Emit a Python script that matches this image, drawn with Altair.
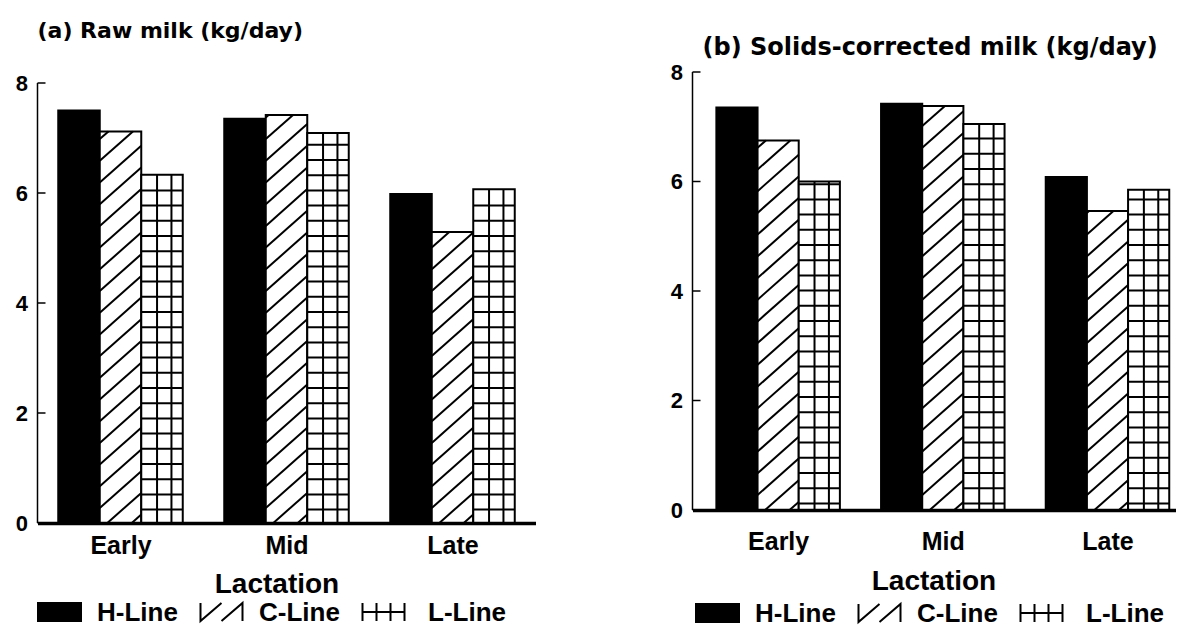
import math
import altair as alt
import pandas as pd

# ---------------- data ----------------
stages = ["Early", "Mid", "Late"]
series = ["H-Line", "C-Line", "L-Line"]

raw_h = [7.50, 7.35, 5.98]
raw_c = [7.12, 7.42, 5.29]
raw_l = [6.33, 7.09, 6.07]

scm_h = [7.35, 7.42, 6.08]
scm_c = [6.75, 7.38, 5.46]
scm_l = [6.00, 7.05, 5.85]

y_ticks = [0, 2, 4, 6, 8]

# ---------------- styling ----------------
FONT = "Liberation Sans"
TFONT = "DejaVu Sans"
BAR = 0.25
OUTER = 0.125

# legend swatches as stroked paths (the solid one is filled by dense strokes)
solid = "M-2.15,-0.9H2.15V0.9H-2.15Z" + "".join(
    "M-2.15,%.2fH2.15" % (-0.9 + 0.15 * i) for i in range(1, 12)
)
legend_paths = [
    solid,
    "M-2.1,-0.9V0.9L0,-0.9M0,0.9L2.1,-0.9V0.9",
    "M-2.1,-0.9V0.9M-0.7,-0.9V0.9M0.7,-0.9V0.9M2.1,-0.9V0.9M-2.1,0H2.1",
]


def bar_table(h, c, l):
    rows = []
    for i, st in enumerate(stages):
        for k, (s, vals) in enumerate(zip(series, [h, c, l])):
            x0 = i + OUTER + k * BAR
            rows.append({"stage": st, "series": s, "x0": x0, "x1": x0 + BAR, "v": vals[i]})
    return pd.DataFrame(rows)


def pattern_table(bars, px_x, px_y, hatch_phase, grid_phase,
                  spacing=21.7, slope=0.887, grid_step=15.2, grid_cols=(15.8, 30.2)):
    rows = []
    for _, b in bars.iterrows():
        w = (b["x1"] - b["x0"]) * px_x
        h = b["v"] * px_y
        if b["series"] == series[1]:
            c = hatch_phase - spacing * math.ceil((hatch_phase + slope * w) / spacing)
            while c < h:
                xs = max(0.0, -c / slope)
                xe = min(w, (h - c) / slope)
                if xe > xs + 0.5:
                    rows.append({"xa": b["x0"] + xs / px_x, "ya": (slope * xs + c) / px_y,
                                 "xb": b["x0"] + xe / px_x, "yb": (slope * xe + c) / px_y})
                c += spacing
        elif b["series"] == series[2]:
            for off in grid_cols:
                xx = b["x0"] + off / px_x
                rows.append({"xa": xx, "ya": 0.0, "xb": xx, "yb": b["v"]})
            yy = grid_phase
            while yy < h - 2:
                rows.append({"xa": b["x0"], "ya": yy / px_y, "xb": b["x1"], "yb": yy / px_y})
                yy += grid_step
    return pd.DataFrame(rows)


def panel(h, c, l, title, W, H, xdom, ytop, label_pad, title_x, title_y,
          legend_y, legend_dx, hatch_phase, grid_phase):
    bars = bar_table(h, c, l)
    px_x = W / (xdom[1] - xdom[0])
    px_y = H / ytop
    pats = pattern_table(bars, px_x, px_y, hatch_phase, grid_phase)

    xs = alt.Scale(domain=xdom, nice=False, zero=False)
    ys = alt.Scale(domain=[0, ytop], nice=False)
    label_expr = "[" + ",".join("'%s'" % s for s in stages) + "][floor(datum.value)]"
    x_axis = alt.Axis(values=[i + 0.5 for i in range(len(stages))], labelExpr=label_expr,
                      ticks=False, tickSize=0, grid=False, domainColor="black", domainWidth=3.5,
                      labelFont=FONT, labelFontSize=25, labelFontWeight="bold", labelColor="black",
                      labelPadding=label_pad, labelBaseline="top",
                      title="Lactation", titleFont=FONT, titleFontSize=28, titleFontWeight="bold",
                      titleColor="black", titleX=title_x, titleY=title_y, titleAlign="center",
                      titleBaseline="alphabetic", zindex=2)
    y_axis = alt.Axis(values=y_ticks, ticks=False, tickSize=0, grid=False, domain=False,
                      labelFont=FONT, labelFontSize=22, labelFontWeight="bold",
                      labelColor="black", labelPadding=10, title=None, format="d")

    fill_scale = alt.Scale(domain=series, range=["black", "white", "white"])
    shape_scale = alt.Scale(domain=series, range=legend_paths)

    rects = alt.Chart(bars).mark_rect(stroke="black", strokeWidth=2).encode(
        x=alt.X("x0:Q", scale=xs, axis=x_axis),
        x2="x1:Q",
        y=alt.Y("v:Q", scale=ys, axis=y_axis),
        y2=alt.datum(0),
        fill=alt.Fill("series:N", scale=fill_scale, legend=None),
    )
    hatch = alt.Chart(pats).mark_rule(color="black", strokeWidth=2).encode(
        x="xa:Q", x2="xb:Q", y="ya:Q", y2="yb:Q"
    )
    ticks = alt.Chart(pd.DataFrame({"t": y_ticks})).mark_rule(color="black", strokeWidth=1.5).encode(
        y="t:Q", x=alt.value(0), x2=alt.value(8)
    )
    yline = alt.Chart(pd.DataFrame({"lo": [min(y_ticks)], "hi": [max(y_ticks)]})).mark_rule(
        color="black", strokeWidth=1.5
    ).encode(y="lo:Q", y2="hi:Q", x=alt.value(0))

    # legend row under the axis title: swatch + label per series, placed through the x scale
    leg_df = pd.DataFrame({"series": series, "i": list(range(len(series)))})
    x0 = xdom[0]
    leg_base = alt.Chart(leg_df).transform_calculate(
        sx="%f + (%f + 22 + 162 * datum.i) / %f" % (x0, legend_dx, px_x),
        tx="%f + (%f + 59.5 + 162 * datum.i + (datum.i == 2 ? 7 : 0)) / %f" % (x0, legend_dx, px_x),
    )
    leg_sym = leg_base.mark_point(filled=False, size=400, stroke="black", strokeWidth=2,
                                  opacity=1).encode(
        x="sx:Q", y=alt.value(legend_y),
        shape=alt.Shape("series:N", scale=shape_scale, legend=None),
    )
    leg_txt = leg_base.mark_text(align="left", baseline="middle", font=FONT, fontSize=26,
                                 fontWeight="bold", color="black").encode(
        x="tx:Q", y=alt.value(legend_y + 1), text="series:N"
    )
    return alt.layer(rects, hatch, ticks, yline, leg_sym, leg_txt).properties(
        width=W, height=H, title=title)


left_title = alt.TitleParams(text="(a) Raw milk (kg/day)", anchor="start", frame="group",
                             offset=11.7, baseline="alphabetic", font=TFONT, fontSize=22,
                             fontWeight="bold", color="black")
right_title = alt.TitleParams(text="(b) Solids-corrected milk (kg/day)", anchor="start",
                              frame="group", offset=-18, baseline="alphabetic",
                              font=TFONT, fontSize=24, fontWeight="bold", color="black", dx=10)

# left panel: y range runs a little above 8 so that its 8 sits lower than the right panel's
left = panel(raw_h, raw_c, raw_l, left_title, 498, 451, [0, 3], 8.2, 10.5, 239, 69.5,
             540, 0, 15, 13.4)
right = panel(scm_h, scm_c, scm_l, right_title, 483, 438, [-0.02, 2.913], 8.0, 19, 241, 79,
              541, 3, 15, 6.6)

chart = alt.hconcat(left, right, spacing=134).resolve_scale(
    fill="independent", shape="independent", x="independent", y="independent"
).properties(
    padding={"left": 14.5, "top": 20, "right": 0, "bottom": 0},
    background="white",
).configure_view(stroke=None)

chart.save("out.html", embed_options={"renderer": "svg", "actions": False})
